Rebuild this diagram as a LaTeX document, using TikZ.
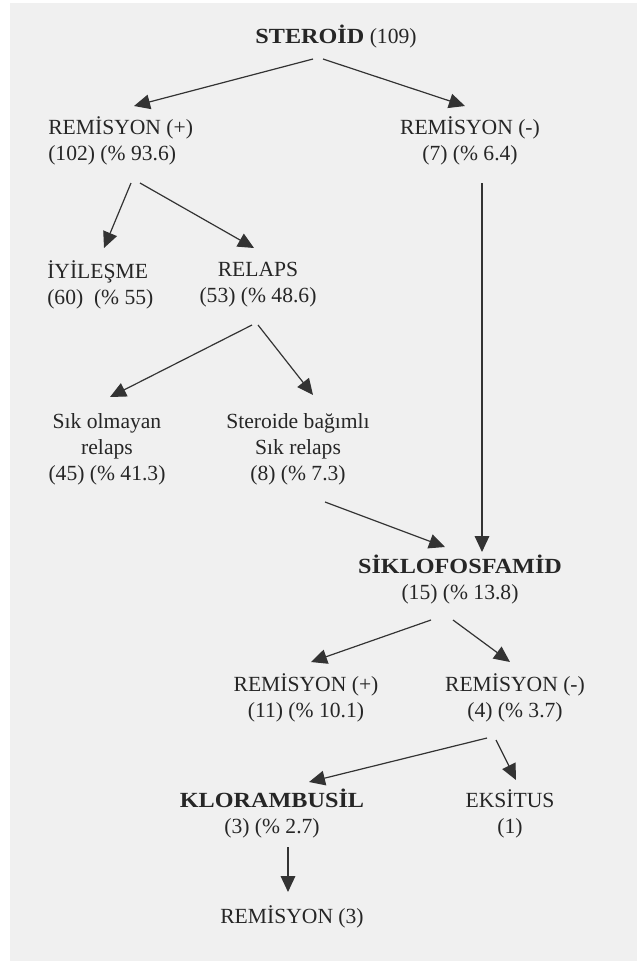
\documentclass[tikz,border=0pt]{standalone}
\usepackage{fontspec}
\setmainfont[BoldFeatures={FakeStretch=1.12}]{Liberation Serif}
\usepackage{tikz}
\usetikzlibrary{arrows.meta,calc}

\begin{document}
\begin{tikzpicture}[x=0.75pt, y=-0.75pt, >={Triangle[length=12pt,width=11pt]},
        lbl/.style={inner sep=0pt, align=center, text=black!85,
            font=\fontsize{16.2}{19.5}\selectfont},
        arr/.style={->, line width=0.9pt, draw=black!80}]
        \useasboundingbox (0,0) rectangle (637,961);
        \fill [gray!12] (10,3) rectangle (637,961);

        % first line of treatment
        \node [lbl] (ster) at (336,37) {\textbf{STEROİD} (109)};
        \node [lbl, anchor=west, align=left] (remp) at (48,140.5) {REMİSYON (+)\\(102) (\% 93.6)};
        \node [lbl] (remn) at (470,140.5) {REMİSYON (-)\\(7) (\% 6.4)};

        \node [lbl, anchor=west, align=left] (iyi) at (47,284.5) {İYİLEŞME\\(60)\ \ (\% 55)};
        \node [lbl] (rel) at (258,284.5) {RELAPS\\(53) (\% 48.6)};

        \node [lbl] (sik) at (107,449.5) {Sık olmayan\\relaps\\(45) (\% 41.3)};
        \node [lbl] (bag) at (298,449.5) {Steroide bağımlı\\Sık relaps\\(8) (\% 7.3)};

        % second line
        \node [lbl] (siklo) at (460,579.5) {\textbf{SİKLOFOSFAMİD}\\(15) (\% 13.8)};
        \node [lbl] (remp2) at (306,697.5) {REMİSYON (+)\\(11) (\% 10.1)};
        \node [lbl] (remn2) at (515,697.5) {REMİSYON (-)\\(4) (\% 3.7)};

        % third line
        \node [lbl] (klor) at (272,814) {\textbf{KLORAMBUSİL}\\(3) (\% 2.7)};
        \node [lbl] (eks) at (510,814) {EKSİTUS\\(1)};
        \node [lbl] (rem3) at (292,917) {REMİSYON (3)};

        \draw [arr] ($(ster)+(-23,22)$) -- ($(remp.west)+(86,-34.5)$);
        \draw [arr] ($(ster)+(-13,22)$) -- ($(remn)+(-5,-34.5)$);
        \draw [arr] ($(remp.west)+(83,42.5)$) -- ($(iyi.west)+(57,-36.5)$);
        \draw [arr] ($(remp.west)+(92,42.5)$) -- ($(rel)+(-4,-36.5)$);
        \draw [arr] ($(rel)+(-6,40.5)$) -- ($(sik)+(3,-52.5)$);
        \draw [arr] ($(rel)+(0,40.5)$) -- ($(bag)+(15,-54.5)$);
        \draw [arr] ($(bag)+(27,52.5)$) -- ($(siklo)+(-15,-32.5)$);
        \draw [arr] ($(remn)+(12,42.5)$) -- ($(siklo)+(22,-27.5)$);
        \draw [arr] ($(siklo)+(-29,40.5)$) -- ($(remp2)+(5,-35.5)$);
        \draw [arr] ($(siklo)+(-7,40.5)$) -- ($(remn2)+(-5,-35.5)$);
        \draw [arr] ($(remn2)+(-28,40.5)$) -- ($(klor)+(37,-32)$);
        \draw [arr] ($(remn2)+(-19,42.5)$) -- ($(eks)+(6,-34)$);
        \draw [arr] ($(klor)+(16,33)$) -- ($(rem3)+(-4,-25)$);
\end{tikzpicture}
\end{document}
